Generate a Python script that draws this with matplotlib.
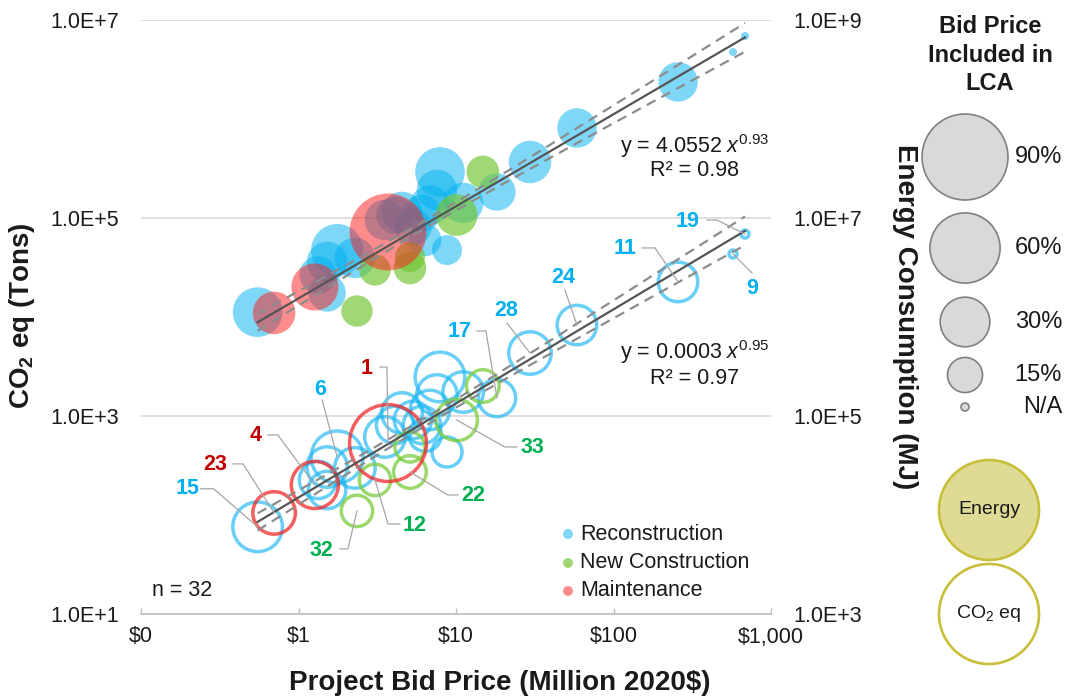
import numpy as np
import matplotlib
matplotlib.use("Agg")
import matplotlib.pyplot as plt
from matplotlib.patches import Circle
from matplotlib.lines import Line2D
from matplotlib.ticker import FixedLocator, FuncFormatter, NullLocator

plt.rcParams['font.family'] = ['Liberation Sans', 'DejaVu Sans']
plt.rcParams['mathtext.fontset'] = 'custom'
plt.rcParams['mathtext.rm'] = 'Liberation Sans'
plt.rcParams['mathtext.it'] = 'Liberation Sans:italic'
plt.rcParams['mathtext.bf'] = 'Liberation Sans:bold'

# ---------------- data ----------------
# category: R = Reconstruction, N = New Construction, M = Maintenance
category = ['R', 'M', 'M', 'R', 'R', 'R', 'R', 'N', 'N', 'M', 'R', 'R', 'N', 'N', 'R', 'R',
            'R', 'R', 'R', 'R', 'N', 'R', 'N', 'R', 'R', 'R', 'R', 'R', 'R', 'R', 'R', 'R']
project_label = ['15', '23', '4', '', '', '6', '', '32', '12', '1', '', '', '22', '', '', '',
                 '', '', '', '', '33', '', '', '17', '28', '24', '11', '19', '9', '', '', '']
bid_price = [0.55, 0.70, 1.27, 1.33, 1.52, 1.76, 2.28, 2.35, 3.06, 3.70, 3.54, 4.54, 5.10, 5.10,
             5.33, 6.08, 6.84, 7.57, 7.91, 8.77, 10.1, 11.1, 14.8, 18.2, 29.5, 58.6, 257, 684,
             574, 1.52, 4.10, 6.36]                      # million 2020$
co2_tons = [76, 105, 201, 226, 179, 385, 299, 110, 226, 533, 614, 1072, 272, 486, 912, 811,
            1151, 1630, 2477, 433, 912, 1746, 2009, 1520, 4325, 8297, 22590, 68850, 43290,
            305, 811, 643]
energy_mj = [1.12e6, 1.10e6, 2.01e6, 2.66e6, 1.75e6, 4.75e6, 3.95e6, 1.15e6, 2.99e6, 7.23e6,
             9.55e6, 1.15e7, 3.13e6, 4.03e6, 8.11e6, 1.12e7, 1.35e7, 1.92e7, 2.92e7, 4.75e6,
             1.07e7, 1.42e7, 2.92e7, 1.83e7, 3.68e7, 8.11e7, 2.37e8, 6.89e8, 4.75e8, 3.60e6,
             1.07e7, 6.00e6]
pct_in_lca = [30, 22, 27, 17, 17, 33, 20, 12, 12, 72, 20, 20, 13, 11, 17, 17, 19, 20, 30, 11,
              21, 20, 13, 17, 22, 19, 19, None, None, 20, 17, 13]   # None = N/A

legend_pcts = [90, 60, 30, 15]
legend_pct_labels = ['90%', '60%', '30%', '15%']
category_names = {'R': 'Reconstruction', 'N': 'New Construction', 'M': 'Maintenance'}

# power-law fits (x in 2020$)
energy_coef, energy_exp, energy_r2 = 4.0552, 0.93, 0.98
co2_coef, co2_exp, co2_r2 = 0.0003, 0.95, 0.97
n_projects = 32

x_ticks = [0.1, 1, 10, 100, 1000]
co2_ticks = [1e1, 1e3, 1e5, 1e7]
energy_ticks = [1e3, 1e5, 1e7, 1e9]

# ---------------- styling ----------------
fill_style = {'R': ('#00B0F0', 0.5), 'N': ('#74C634', 0.68), 'M': ('#FF1A1A', 0.5)}
ring_style = {'R': ('#19B6F2', 0.65), 'N': ('#7ACB3C', 0.75), 'M': ('#F02828', 0.75)}
label_color = {'R': '#00B0F0', 'N': '#00B050', 'M': '#C00000'}

W, H, DPI = 1065, 700, 100
R_PER_SQRT_PCT = 4.53   # bubble radius (px) per sqrt(percent)
NA_RADIUS = 4.0


def radius_px(p):
    return NA_RADIUS if p is None else R_PER_SQRT_PCT * np.sqrt(p)


def area_pt2(r):
    return (2 * r * 72.0 / DPI) ** 2


def fx(x):
    return x / W


def fy(y):
    return 1 - y / H


fig = plt.figure(figsize=(W / DPI, H / DPI), dpi=DPI)
fig.patch.set_facecolor('white')
ax = fig.add_axes([141 / W, 1 - 614 / H, 630 / W, 594 / H])
ax.set_xscale('log')
ax.set_yscale('log')
ax.set_xlim(0.1, 1000)
ax.set_ylim(10, 1e7)
ax2 = ax.twinx()
ax2.set_yscale('log')
ax2.set_ylim(1e3, 1e9)


def sci_fmt(v, pos):
    e = int(np.floor(np.log10(v) + 1e-9))
    m = v / 10 ** e
    return f"{m:.1f}E+{e}"


ax.xaxis.set_major_locator(FixedLocator(x_ticks))
ax.xaxis.set_minor_locator(NullLocator())
ax.xaxis.set_major_formatter(FuncFormatter(lambda v, p: f"${v:,.0f}"))
ax.yaxis.set_major_locator(FixedLocator(co2_ticks))
ax.yaxis.set_minor_locator(NullLocator())
ax.yaxis.set_major_formatter(FuncFormatter(sci_fmt))
ax2.yaxis.set_major_locator(FixedLocator(energy_ticks))
ax2.yaxis.set_minor_locator(NullLocator())
ax2.yaxis.set_major_formatter(FuncFormatter(sci_fmt))

txt_col = '#1A1A1A'
ax.tick_params(axis='y', length=0, pad=16, labelsize=15.5, labelcolor=txt_col)
ax2.tick_params(axis='y', length=0, pad=16, labelsize=15.5, labelcolor=txt_col)
ax.tick_params(axis='x', direction='in', length=4, width=1, color='#BFBFBF', pad=9,
               labelsize=15.5, labelcolor=txt_col)
for a in (ax, ax2):
    for s in ('top', 'left', 'right', 'bottom'):
        a.spines[s].set_visible(False)
ax.spines['bottom'].set_visible(True)
ax.spines['bottom'].set_color('#BFBFBF')
ax.spines['bottom'].set_linewidth(1.2)
ax.set_axisbelow(True)
ax.yaxis.grid(True, color='#D9D9D9', linewidth=1.2)

x = np.array(bid_price, dtype=float)
co2 = np.array(co2_tons, dtype=float)
en = np.array(energy_mj, dtype=float)
radii = np.array([radius_px(p) for p in pct_in_lca])
cats = np.array(category)

# filled energy bubbles and hollow CO2 bubbles, drawn category by category
for c in ['R', 'N', 'M']:
    m = cats == c
    col, a = fill_style[c]
    ax2.scatter(x[m], en[m], s=area_pt2(radii[m]), color=col, alpha=a, linewidths=0, zorder=2)
    rcol, ra = ring_style[c]
    ax.scatter(x[m], co2[m], s=area_pt2(radii[m]), facecolors='none', edgecolors=rcol,
               alpha=ra, linewidths=2.5, zorder=3)

# fitted power-law lines with confidence band
xl = np.logspace(np.log10(x.min()), np.log10(x.max()), 200)
lx_mean = np.mean(np.log10(x))
half = np.sqrt(0.04 ** 2 + (0.07 * (np.log10(xl) - lx_mean)) ** 2)
energy_fit = energy_coef * (xl * 1e6) ** energy_exp
co2_fit = co2_coef * (xl * 1e6) ** co2_exp
for a, yfit in ((ax2, energy_fit), (ax, co2_fit)):
    a.plot(xl, yfit, color='#555555', lw=1.6, zorder=5)
    for sgn in (1, -1):
        a.plot(xl, yfit * 10 ** (sgn * half), color='#8C8C8C', lw=1.6,
               dashes=(4.5, 3), zorder=5)

# project number call-outs: label offset and elbow points, in pixels (dx, dy down)
callouts = {
    '15': ((-70, -38), [(-57, -38), (-44, -38)]),
    '23': ((-59, -48), [(-41, -49), (-31, -49)]),
    '4': ((-59, -49), [(-47, -50), (-37, -50)]),
    '6': ((-17, -68), [(-15, -57)]),
    '32': ((-35, 40), [(-17, 38), (-9, 38)]),
    '12': ((40, 46), [(25, 44), (13, 44)]),
    '1': ((-21, -75), [(-8, -76), (-1, -76)]),
    '22': ((63, 24), [(48, 23), (38, 23)]),
    '33': ((76, 28), [(60, 27), (48, 27)]),
    '17': ((-37, -66), [(-20, -67), (-11, -67)]),
    '28': ((-24, -43), [(-23, -30)]),
    '24': ((-14, -48), [(-12, -35)]),
    '11': ((-53, -33), [(-36, -34), (-23, -34)]),
    '19': ((-57, -13), [(-38, -14), (-28, -14)]),
    '9': ((19, 35), [(19, 19)]),
}
for i, lab in enumerate(project_label):
    if not lab:
        continue
    (tdx, tdy), elbow = callouts[lab]
    cx, cy = ax.transData.transform((x[i], co2[i]))
    pts = [(cx + dx, cy - dy) for dx, dy in elbow] + [(cx, cy)]
    xs = [p[0] / DPI for p in pts]
    ys = [p[1] / DPI for p in pts]
    fig.add_artist(Line2D(xs, ys, transform=fig.dpi_scale_trans, color='#A6A6A6', lw=0.9,
                          zorder=1))
    ax.annotate(lab, (x[i], co2[i]), xytext=(tdx, -tdy), textcoords='offset pixels',
                ha='center', va='center', fontsize=15.5, fontweight='bold',
                color=label_color[category[i]], zorder=6)

# fit equations
fs = 15.5
fig.text(fx(695), fy(146), f"y = {energy_coef:.4f} $x^{{{energy_exp:.2f}}}$", ha='center',
         va='center', fontsize=fs, color=txt_col)
fig.text(fx(695), fy(171), f"R² = {energy_r2:.2f}", ha='center', va='center', fontsize=fs,
         color=txt_col)
fig.text(fx(695), fy(352), f"y = {co2_coef:.4f} $x^{{{co2_exp:.2f}}}$", ha='center',
         va='center', fontsize=fs, color=txt_col)
fig.text(fx(695), fy(378), f"R² = {co2_r2:.2f}", ha='center', va='center', fontsize=fs,
         color=txt_col)
fig.text(fx(152), fy(590), f"n = {n_projects}", ha='left', va='center', fontsize=fs,
         color=txt_col)

# category key
for c, yy in zip(['R', 'N', 'M'], [534, 563, 591]):
    col, a = fill_style[c]
    fig.add_artist(Circle((568 / DPI, (H - yy) / DPI), 5 / DPI, transform=fig.dpi_scale_trans,
                          facecolor=col, alpha=a, edgecolor='none'))
    fig.text(fx(580), fy(yy), category_names[c], ha='left', va='center', fontsize=fs,
             color=txt_col)

# axis titles
fig.text(fx(500), fy(683), 'Project Bid Price (Million 2020$)', ha='center', va='center',
         fontsize=20, fontweight='bold', color=txt_col)
fig.text(fx(22), fy(316), r'CO$_{\mathbf{2}}$ eq (Tons)', rotation=90, ha='center',
         va='center', fontsize=20, fontweight='bold', color=txt_col)
fig.text(fx(905), fy(317), 'Energy Consumption (MJ)', rotation=270, ha='center',
         va='center', fontsize=20, fontweight='bold', color=txt_col)

# bubble-size key
fig.text(fx(990), fy(55), 'Bid Price\nIncluded in\nLCA', ha='center', va='center',
         fontsize=17, fontweight='bold', linespacing=1.3, color=txt_col)
key_y = [157, 248, 322, 375]
for p, lab, yy in zip(legend_pcts, legend_pct_labels, key_y):
    fig.add_artist(Circle((965 / DPI, (H - yy) / DPI), radius_px(p) / DPI,
                          transform=fig.dpi_scale_trans, facecolor='#D9D9D9',
                          edgecolor='#808080', lw=1.2))
    fig.text(fx(1062), fy(yy), lab, ha='right', va='center', fontsize=17, color=txt_col)
fig.add_artist(Circle((965 / DPI, (H - 407) / DPI), NA_RADIUS / DPI,
                      transform=fig.dpi_scale_trans, facecolor='#D9D9D9',
                      edgecolor='#808080', lw=1.2))
fig.text(fx(1062), fy(407), 'N/A', ha='right', va='center', fontsize=17, color=txt_col)

# marker-style key
for yy, face, lab in ((510, '#E0DB94', 'Energy'), (614, 'white', r'CO$_2$ eq')):
    fig.add_artist(Circle((989 / DPI, (H - yy) / DPI), 50 / DPI, transform=fig.dpi_scale_trans,
                          facecolor=face, edgecolor='#C9BE3A', lw=1.9))
    fig.text(fx(989), fy(yy), lab, ha='center', va='center', fontsize=14, color=txt_col)

fig.savefig('out.png', dpi=DPI, facecolor='white')
